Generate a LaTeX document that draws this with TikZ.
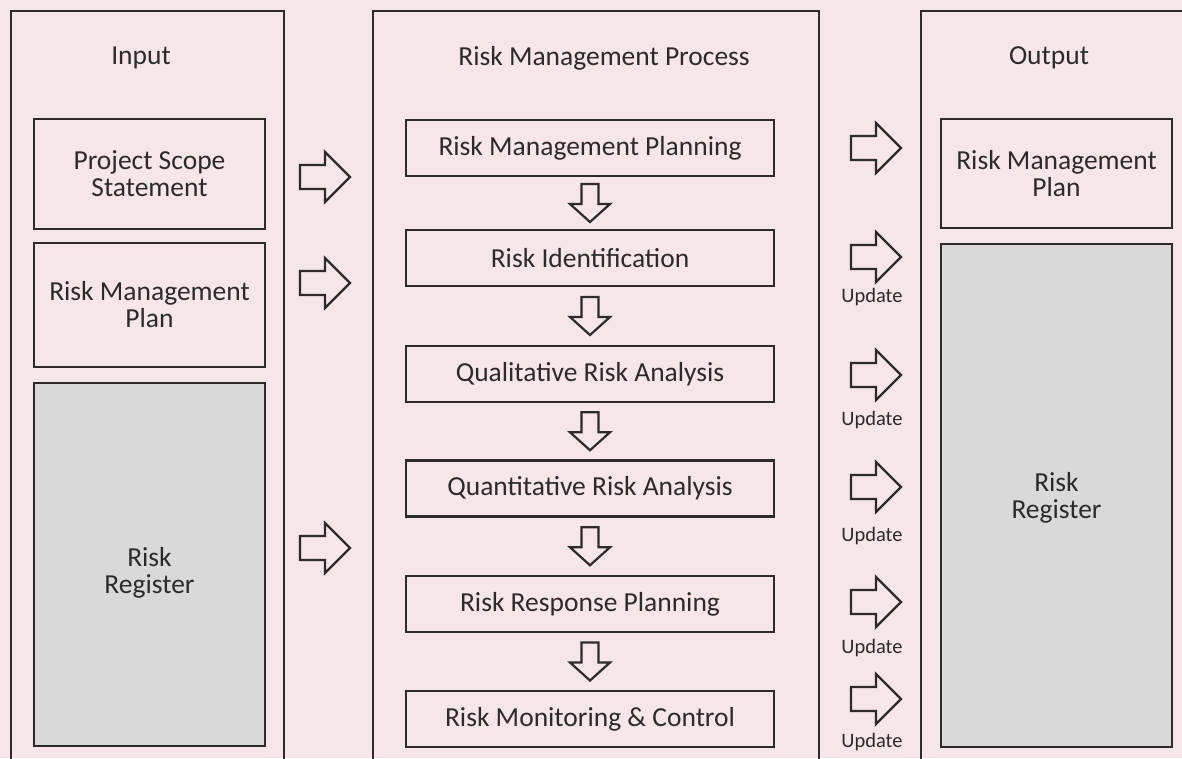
\documentclass[tikz,border=0pt]{standalone}
\usepackage{fontspec}
\setmainfont{Carlito}
\usetikzlibrary{calc}
\definecolor{paper}{HTML}{F6E5E9}
\definecolor{ink}{HTML}{2B2B2B}
\definecolor{shade}{HTML}{D9D9D9}
\begin{document}
\begin{tikzpicture}[x=1pt,y=-1pt,
  every node/.style={text=ink},
  label text/.style={font=\fontsize{27.5}{27}\selectfont, align=center, inner sep=0pt},
  small text/.style={font=\fontsize{20.5}{20}\selectfont, inner sep=0pt},
  frame/.style={draw=ink, line width=2.6pt},
  sidebox/.style={frame, label text, minimum width=231pt},
  stepbox/.style={frame, label text, minimum width=368pt, minimum height=56pt},
  block/.style={draw=ink, line width=2.2pt, line join=miter, fill=paper},
  rblock/.pic={\draw[block] (-25,-12) -- (0,-12) -- (0,-25) -- (25,0) -- (0,25) -- (0,12) -- (-25,12) -- cycle;},
  dblock/.pic={\draw[block] (-8.5,-19) -- (8.5,-19) -- (8.5,1) -- (20,1) -- (0,19) -- (-20,1) -- (-8.5,1) -- cycle;}
]
\useasboundingbox (0,0) rectangle (1182,758);
\clip (0,0) rectangle (1182,758);
\fill[paper] (0,0) rectangle (1182,758);

% three open-bottomed columns
\draw[frame] (11,780) |- (284,11) -- (284,780);
\draw[frame] (373,780) |- (819,11) -- (819,780);
\draw[frame] (921,780) |- (1200,11) -- (1200,780);

% column titles
\node[label text] (tin)  at (141,58)  {Input};
\node[label text] (tmid) at (604,58)  {Risk Management Process};
\node[label text] (tout) at (1049,58) {Output};

% inputs
\node[sidebox, minimum height=110pt] (pss) at (149.5,174) {Project Scope\\Statement};
\node[sidebox, minimum height=124pt] (rmpin) at (149.5,305) {Risk Management\\Plan};
\node[sidebox, minimum height=363pt, fill=shade] (rrin) at (149.5,564.5) {};
\node[label text] (rrintxt) at (149.5,573) {Risk\\Register};

% process steps
\node[stepbox] (s1) at (590,148)   {Risk Management Planning};
\node[stepbox] (s2) at (590,258)   {Risk Identification};
\node[stepbox] (s3) at (590,374)   {Qualitative Risk Analysis};
\node[stepbox] (s4) at (590,488.5) {Quantitative Risk Analysis};
\node[stepbox] (s5) at (590,604)   {Risk Response Planning};
\node[stepbox] (s6) at (590,719)   {Risk Monitoring \& Control};

% outputs
\node[sidebox, minimum height=109pt] (rmpout) at (1056.5,173.5) {Risk Management\\Plan};
\node[sidebox, minimum height=503pt, fill=shade] (rrout) at (1056.5,495.5) {};
\node[label text] (rrouttxt) at (1056.5,498) {Risk\\Register};

% flow between steps
\pic (d1) at ($(s1.south)!0.5!(s2.north)$) {dblock};
\pic (d2) at ($(s2.south)!0.5!(s3.north)$) {dblock};
\pic (d3) at ($(s3.south)!0.5!(s4.north)$) {dblock};
\pic (d4) at ($(s4.south)!0.5!(s5.north)$) {dblock};
\pic (d5) at ($(s5.south)!0.5!(s6.north)$) {dblock};

% inputs feeding the process
\pic (i1) at (325,177) {rblock};
\pic (i2) at (325,283) {rblock};
\pic (i3) at (325,548) {rblock};

% process feeding the outputs
\pic (o1) at (876,148) {rblock};
\pic (o2) at (876,257) {rblock};
\pic (o3) at (876,375) {rblock};
\pic (o4) at (876,487) {rblock};
\pic (o5) at (876,602) {rblock};
\pic (o6) at (876,699) {rblock};
\node[small text] (u2) at (872,297) {Update};
\node[small text] (u3) at (872,420) {Update};
\node[small text] (u4) at (872,536) {Update};
\node[small text] (u5) at (872,648) {Update};
\node[small text] (u6) at (872,742) {Update};
\end{tikzpicture}
\end{document}
